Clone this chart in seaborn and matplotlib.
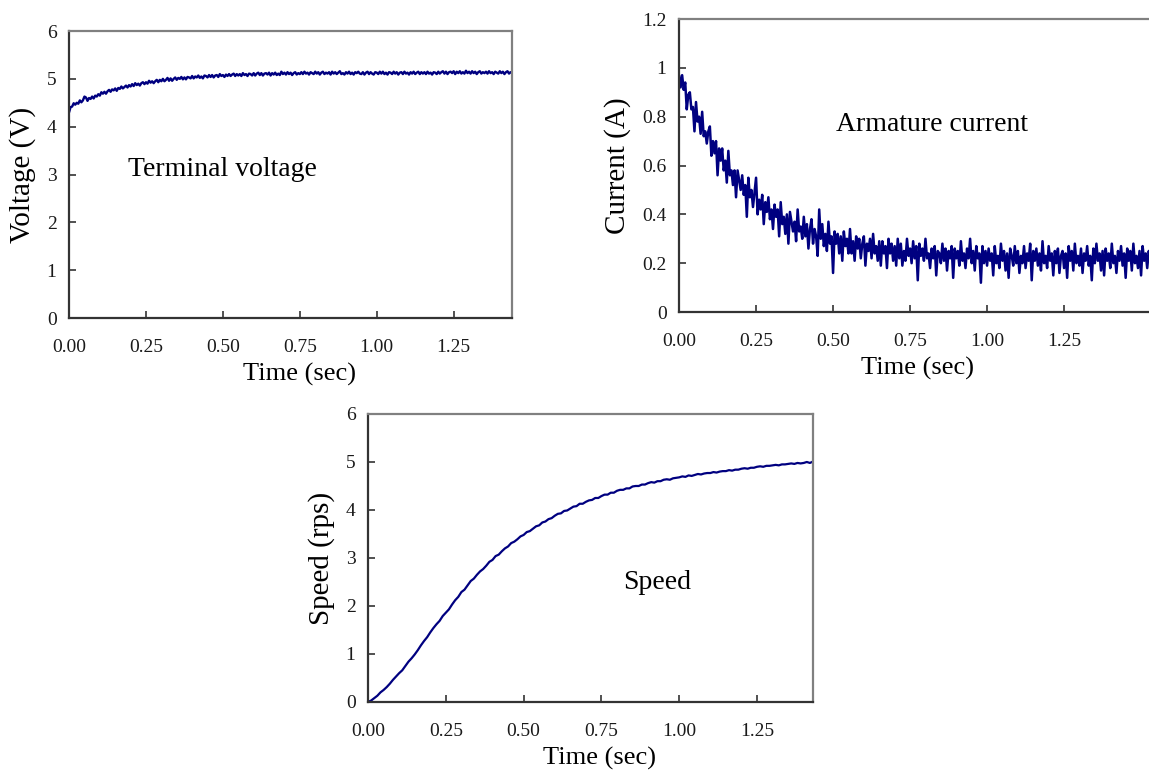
import numpy as np
import pandas as pd
import matplotlib
matplotlib.use("Agg")
import matplotlib.pyplot as plt
import seaborn as sns

# sample steps of the logged signals (sec)
dt_fast = 0.005   # voltage, current
dt_slow = 0.01    # speed

voltage = [4.30, 4.41, 4.42, 4.49, 4.46, 4.50, 4.48, 4.55, 4.51, 4.55,
           4.63, 4.61, 4.54, 4.60, 4.58, 4.63, 4.59, 4.65, 4.63, 4.68,
           4.65, 4.72, 4.69, 4.73, 4.69, 4.74, 4.77, 4.73, 4.78, 4.76,
           4.80, 4.75, 4.81, 4.79, 4.84, 4.80, 4.83, 4.86, 4.82, 4.87,
           4.84, 4.89, 4.85, 4.91, 4.87, 4.90, 4.86, 4.91, 4.93, 4.89,
           4.93, 4.90, 4.96, 4.92, 4.95, 4.91, 4.95, 4.98, 4.93, 4.98,
           4.95, 5.00, 4.95, 4.98, 5.02, 4.96, 5.01, 4.96, 5.00, 5.03,
           4.98, 5.02, 5.00, 5.04, 4.99, 5.03, 4.99, 5.04, 5.03, 5.01,
           5.06, 5.01, 5.05, 5.03, 5.07, 5.02, 5.05, 5.01, 5.07, 5.06,
           5.03, 5.08, 5.04, 5.08, 5.03, 5.07, 5.08, 5.04, 5.10, 5.06,
           5.08, 5.04, 5.09, 5.06, 5.10, 5.06, 5.09, 5.11, 5.06, 5.10,
           5.07, 5.10, 5.06, 5.12, 5.08, 5.10, 5.06, 5.11, 5.10, 5.07,
           5.12, 5.07, 5.11, 5.13, 5.08, 5.12, 5.07, 5.11, 5.12, 5.09,
           5.13, 5.07, 5.12, 5.09, 5.13, 5.08, 5.11, 5.08, 5.15, 5.10,
           5.13, 5.09, 5.14, 5.10, 5.13, 5.08, 5.12, 5.14, 5.09, 5.12,
           5.10, 5.14, 5.10, 5.15, 5.11, 5.13, 5.09, 5.14, 5.12, 5.10,
           5.15, 5.11, 5.14, 5.09, 5.13, 5.15, 5.10, 5.13, 5.11, 5.14,
           5.09, 5.15, 5.11, 5.14, 5.10, 5.13, 5.16, 5.10, 5.12, 5.09,
           5.14, 5.11, 5.15, 5.10, 5.13, 5.09, 5.14, 5.12, 5.15, 5.11,
           5.10, 5.14, 5.09, 5.13, 5.15, 5.10, 5.14, 5.11, 5.09, 5.14,
           5.13, 5.10, 5.15, 5.11, 5.15, 5.10, 5.13, 5.09, 5.14, 5.13,
           5.10, 5.15, 5.11, 5.14, 5.09, 5.13, 5.14, 5.10, 5.15, 5.11,
           5.13, 5.09, 5.14, 5.11, 5.15, 5.10, 5.13, 5.15, 5.10, 5.14,
           5.11, 5.14, 5.10, 5.15, 5.11, 5.13, 5.09, 5.14, 5.13, 5.10,
           5.15, 5.11, 5.14, 5.16, 5.11, 5.15, 5.10, 5.14, 5.15, 5.12,
           5.16, 5.10, 5.15, 5.12, 5.16, 5.11, 5.14, 5.11, 5.17, 5.12,
           5.15, 5.11, 5.16, 5.12, 5.15, 5.10, 5.14, 5.16, 5.11, 5.14,
           5.12, 5.15, 5.11, 5.16, 5.12, 5.14, 5.10, 5.15, 5.13, 5.11,
           5.16, 5.12, 5.15, 5.10, 5.14, 5.16, 5.11, 5.14, 5.12]

current = [0.97, 0.92, 0.97, 0.91, 0.94, 0.83, 0.89, 0.90, 0.83, 0.84,
           0.74, 0.86, 0.78, 0.80, 0.73, 0.82, 0.72, 0.74, 0.69, 0.74,
           0.76, 0.64, 0.70, 0.65, 0.70, 0.56, 0.67, 0.62, 0.67, 0.58,
           0.62, 0.53, 0.66, 0.56, 0.58, 0.52, 0.58, 0.47, 0.58, 0.54,
           0.50, 0.56, 0.48, 0.52, 0.39, 0.55, 0.47, 0.50, 0.43, 0.49,
           0.55, 0.40, 0.46, 0.42, 0.48, 0.36, 0.45, 0.41, 0.47, 0.38,
           0.42, 0.34, 0.44, 0.39, 0.42, 0.31, 0.45, 0.36, 0.39, 0.32,
           0.40, 0.28, 0.41, 0.37, 0.33, 0.37, 0.29, 0.42, 0.33, 0.35,
           0.30, 0.39, 0.31, 0.36, 0.26, 0.34, 0.38, 0.28, 0.34, 0.31,
           0.23, 0.42, 0.30, 0.36, 0.27, 0.32, 0.25, 0.37, 0.28, 0.31,
           0.16, 0.33, 0.28, 0.32, 0.24, 0.31, 0.21, 0.33, 0.27, 0.30,
           0.24, 0.34, 0.24, 0.29, 0.21, 0.31, 0.26, 0.30, 0.22, 0.28,
           0.31, 0.19, 0.28, 0.25, 0.30, 0.22, 0.32, 0.24, 0.27, 0.21,
           0.29, 0.19, 0.29, 0.24, 0.27, 0.18, 0.30, 0.24, 0.28, 0.21,
           0.27, 0.19, 0.30, 0.22, 0.28, 0.19, 0.25, 0.21, 0.30, 0.23,
           0.26, 0.20, 0.29, 0.22, 0.27, 0.13, 0.28, 0.23, 0.26, 0.21,
           0.30, 0.22, 0.24, 0.18, 0.26, 0.22, 0.27, 0.15, 0.25, 0.24,
           0.20, 0.28, 0.21, 0.26, 0.17, 0.25, 0.22, 0.27, 0.14, 0.26,
           0.22, 0.25, 0.19, 0.29, 0.21, 0.24, 0.18, 0.26, 0.22, 0.30,
           0.20, 0.25, 0.17, 0.27, 0.22, 0.24, 0.12, 0.27, 0.20, 0.25,
           0.19, 0.26, 0.21, 0.24, 0.15, 0.27, 0.20, 0.23, 0.18, 0.28,
           0.21, 0.25, 0.17, 0.24, 0.14, 0.26, 0.23, 0.19, 0.27, 0.20,
           0.25, 0.16, 0.23, 0.20, 0.27, 0.18, 0.24, 0.21, 0.28, 0.13,
           0.25, 0.21, 0.26, 0.19, 0.24, 0.17, 0.29, 0.20, 0.23, 0.18,
           0.27, 0.21, 0.24, 0.15, 0.25, 0.20, 0.26, 0.16, 0.23, 0.25,
           0.18, 0.24, 0.14, 0.27, 0.21, 0.25, 0.17, 0.28, 0.20, 0.23,
           0.19, 0.26, 0.16, 0.24, 0.21, 0.27, 0.19, 0.23, 0.13, 0.26,
           0.20, 0.28, 0.21, 0.24, 0.17, 0.25, 0.15, 0.26, 0.21, 0.24,
           0.18, 0.28, 0.20, 0.23, 0.16, 0.25, 0.21, 0.27, 0.19, 0.24,
           0.14, 0.26, 0.21, 0.25, 0.17, 0.28, 0.20, 0.23, 0.18, 0.25,
           0.15, 0.27, 0.21, 0.24, 0.18, 0.25, 0.20]

speed = [0.00, 0.03, 0.08, 0.13, 0.20, 0.25, 0.31, 0.38, 0.46, 0.53,
         0.60, 0.66, 0.75, 0.84, 0.91, 0.99, 1.08, 1.18, 1.27, 1.35,
         1.45, 1.54, 1.62, 1.69, 1.79, 1.86, 1.93, 2.03, 2.12, 2.19,
         2.29, 2.34, 2.43, 2.52, 2.57, 2.65, 2.72, 2.77, 2.84, 2.92,
         2.96, 3.04, 3.07, 3.14, 3.20, 3.24, 3.31, 3.34, 3.39, 3.45,
         3.48, 3.54, 3.56, 3.61, 3.66, 3.68, 3.74, 3.76, 3.81, 3.83,
         3.88, 3.92, 3.93, 3.98, 3.99, 4.03, 4.07, 4.08, 4.13, 4.13,
         4.17, 4.20, 4.21, 4.25, 4.25, 4.29, 4.32, 4.32, 4.36, 4.36,
         4.40, 4.42, 4.42, 4.45, 4.45, 4.49, 4.50, 4.50, 4.53, 4.53,
         4.56, 4.58, 4.57, 4.60, 4.60, 4.63, 4.64, 4.63, 4.66, 4.67,
         4.68, 4.70, 4.69, 4.72, 4.71, 4.73, 4.75, 4.74, 4.76, 4.77,
         4.77, 4.79, 4.78, 4.80, 4.81, 4.81, 4.83, 4.82, 4.84, 4.84,
         4.86, 4.87, 4.86, 4.88, 4.88, 4.90, 4.91, 4.90, 4.92, 4.92,
         4.93, 4.94, 4.93, 4.95, 4.95, 4.96, 4.97, 4.96, 4.98, 4.97,
         4.98, 5.00, 4.98, 5.01, 5.00]

x_ticks = [0.0, 0.25, 0.5, 0.75, 1.0, 1.25]

sns.set_style("white")
plt.rcParams['font.family'] = ['Liberation Serif', 'DejaVu Serif']
plt.rcParams['text.color'] = 'black'
plt.rcParams['axes.labelcolor'] = 'black'

navy = '#000080'
fig = plt.figure(figsize=(11.49, 7.76), dpi=100)

ax1 = fig.add_axes([0.0601, 0.5902, 0.3856, 0.3698])
ax2 = fig.add_axes([0.5910, 0.5979, 0.4155, 0.3776])
ax3 = fig.add_axes([0.3203, 0.0954, 0.3873, 0.3711])

panels = [
    (ax1, voltage, dt_fast, 1.7, "Voltage (V)", (0, 6), [0, 1, 2, 3, 4, 5, 6], 1.44,
     "Terminal voltage", (0.19, 3.1), 0.52),
    (ax2, current, dt_fast, 1.8, "Current (A)", (0, 1.2), [0, 0.2, 0.4, 0.6, 0.8, 1, 1.2], 1.55,
     "Armature current", (0.51, 0.77), 0.50),
    (ax3, speed, dt_slow, 1.6, "Speed (rps)", (0, 6), [0, 1, 2, 3, 4, 5, 6], 1.43,
     "Speed", (0.82, 2.48), 0.52),
]

for ax, vals, dt, lw, ylab, ylim, yticks, xmax, note, pos, xlab_x in panels:
    df = pd.DataFrame({'t': np.arange(len(vals)) * dt, 'v': vals})
    sns.lineplot(data=df, x='t', y='v', ax=ax, color=navy, linewidth=lw)
    ax.set_xlim(0, xmax)
    ax.set_ylim(*ylim)
    ax.set_xticks(x_ticks)
    ax.set_xticklabels(["%.2f" % t for t in x_ticks])
    ax.set_yticks(yticks)
    ax.set_yticklabels(["%g" % y for y in yticks])
    ax.tick_params(direction='in', length=5, width=1.2, color='#333333',
                   labelsize=14, labelcolor='#1a1a1a', bottom=True, left=True)
    ax.tick_params(axis='x', pad=15)
    ax.tick_params(axis='y', pad=9)
    ax.set_xlabel("Time (sec)", fontsize=19, labelpad=5)
    ax.xaxis.label.set_x(xlab_x)
    ax.set_ylabel(ylab, fontsize=21, labelpad=8)
    for s in ['left', 'bottom']:
        ax.spines[s].set_color('#333333')
        ax.spines[s].set_linewidth(1.6)
    for s in ['top', 'right']:
        ax.spines[s].set_color('#808080')
        ax.spines[s].set_linewidth(1.6)
    ax.text(pos[0], pos[1], note, fontsize=20, ha='left', va='center')

fig.savefig("out.png", dpi=100)
